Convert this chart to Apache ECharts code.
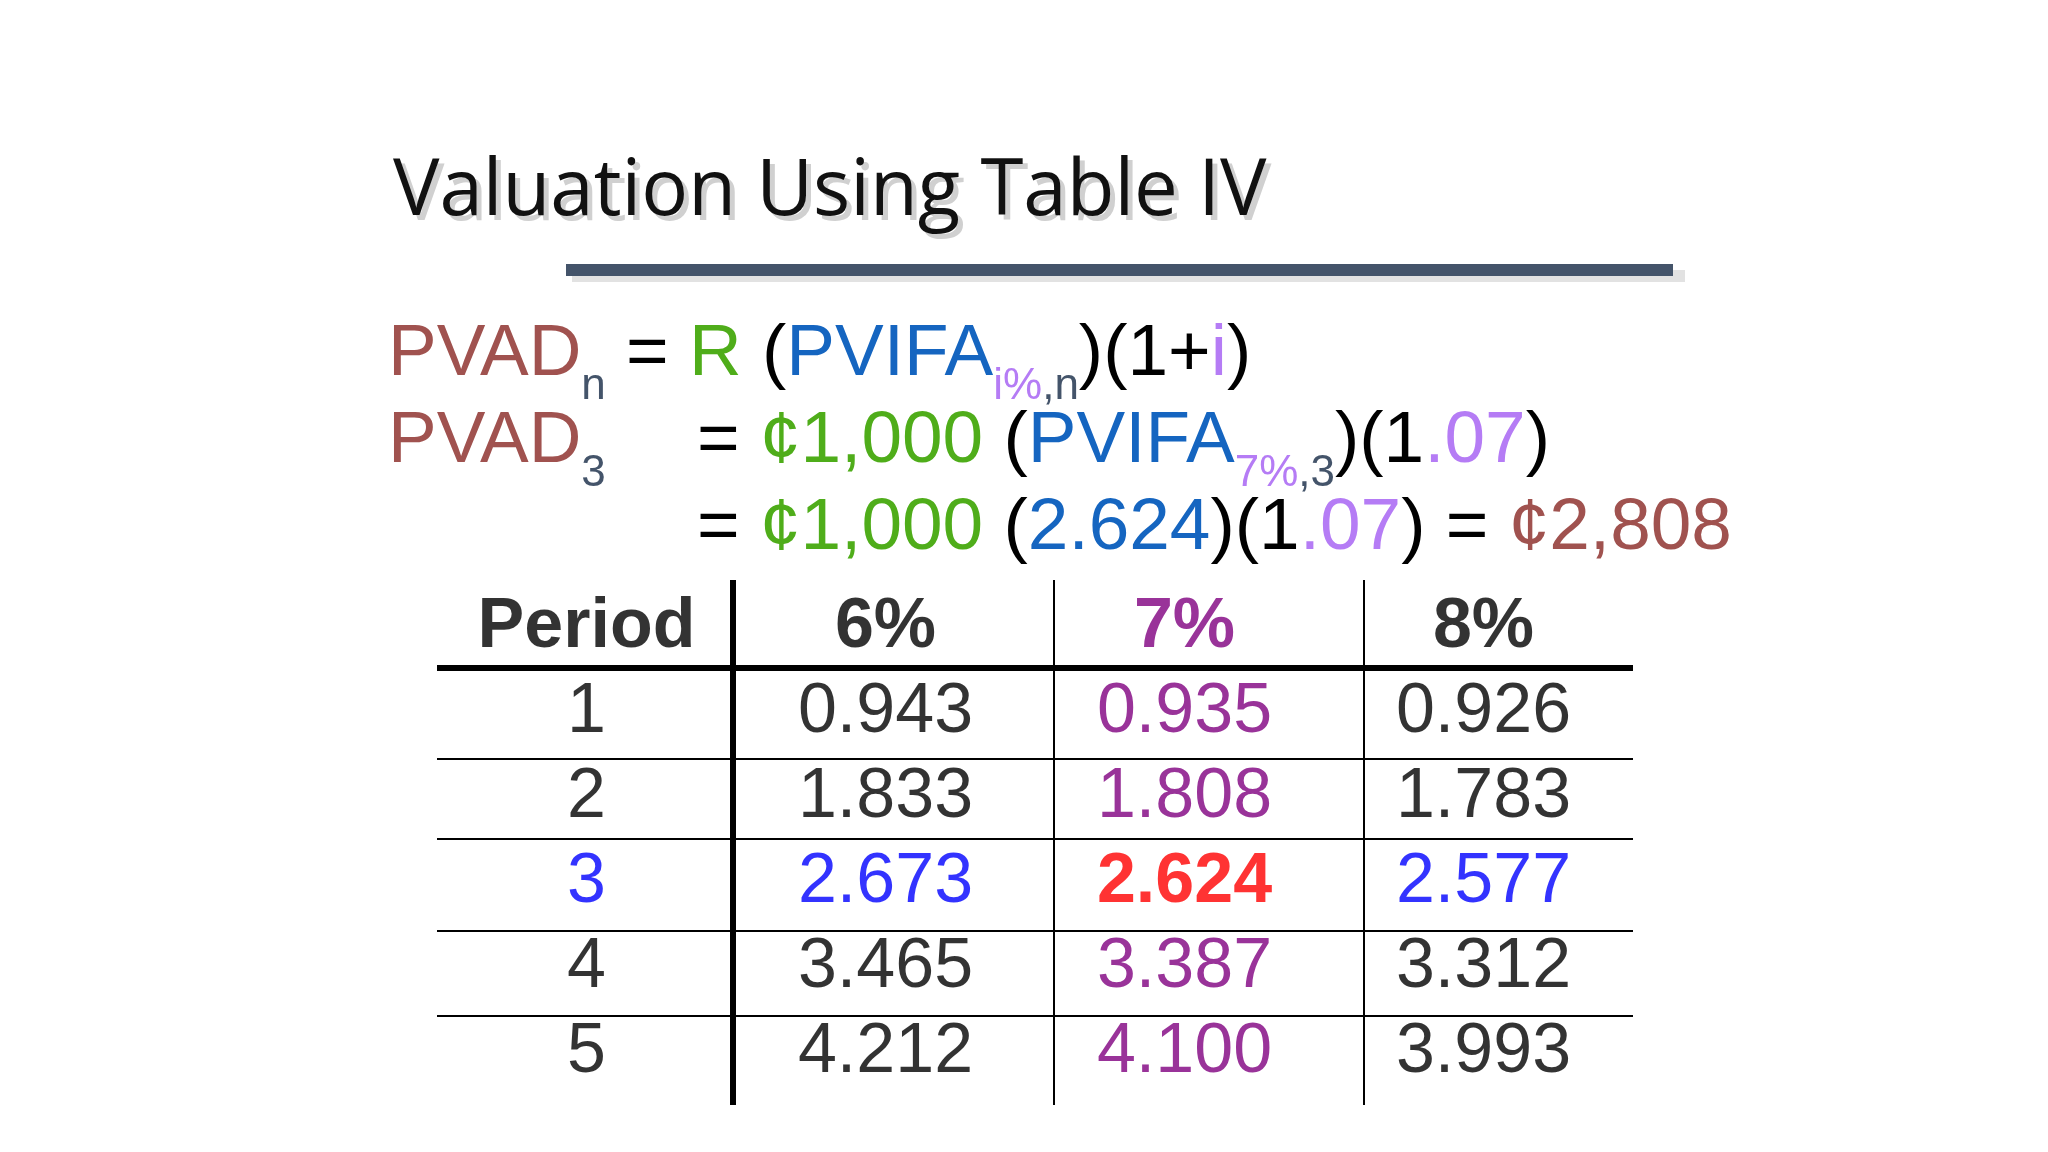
<!DOCTYPE html>
<html>
<head>
<meta charset="utf-8">
<script src="https://cdn.jsdelivr.net/npm/echarts@6/dist/echarts.min.js"></script>
<style>html,body{margin:0;padding:0;background:#fff}#c{width:2048px;height:1152px}</style>
</head>
<body>
<div id="c"></div>
<script>
// table data
const headers = ['Period', '6%', '7%', '8%']
const periods = ['1', '2', '3', '4', '5']
const pv6 = ['0.943', '1.833', '2.673', '3.465', '4.212']
const pv7 = ['0.935', '1.808', '2.624', '3.387', '4.100']
const pv8 = ['0.926', '1.783', '2.577', '3.312', '3.993']
const rowKeys = ['h'].concat(periods)

const cols = [periods, pv6, pv7, pv8]
const cells = []
headers.forEach((h, c) => {
  cells.push({ value: [c, 0], txt: h, st: c === 2 ? 'h7' : 'h' })
})
cols.forEach((arr, c) => {
  arr.forEach((v, r) => {
    let st = c === 2 ? 'p' : 'k'
    if (r === 2) st = c === 2 ? 'red' : 'b'
    cells.push({ value: [c, r + 1], txt: v, st: st })
  })
})

const F = 'Liberation Sans, Arial, sans-serif'
const BR = '#a0524f', GR = '#4fad1a', BL = '#1565c0', PU = '#b57cf5', GY = '#44546a'
const main = (c) => ({ fontSize: 73, fontFamily: F, fill: c, lineHeight: 100, verticalAlign: 'middle' })
const sub = (c) => ({ fontSize: 44, fontFamily: F, fill: c, lineHeight: 100, verticalAlign: 'bottom', padding: [0, 0, -4, 0] })
const rich = { br: main(BR), g: main(GR), bl: main(BL), p: main(PU), k: main('#000'),
  sp: sub(PU), sg: sub(GY) }

const chart = echarts.init(document.getElementById('c'))
chart.setOption({
  backgroundColor: '#fff',
  animation: false,
  grid: { left: 437, right: 415, top: 585, bottom: 57 },
  xAxis: { type: 'category', data: headers, show: false },
  yAxis: { type: 'category', data: rowKeys, inverse: true, show: false },
  series: [{
    type: 'scatter',
    symbolSize: 0,
    data: cells,
    label: {
      show: true,
      position: 'inside',
      color: '#000',
      textBorderWidth: 0,
      formatter: (p) => '{' + p.data.st + '|' + p.data.txt + '}',
      rich: {
        h: { fontSize: 70, fontWeight: 'bold', fontFamily: F, color: '#000' },
        h7: { fontSize: 70, fontWeight: 'bold', fontFamily: F, color: '#800080' },
        k: { fontSize: 70, fontFamily: F, color: '#000' },
        p: { fontSize: 70, fontFamily: F, color: '#800080' },
        b: { fontSize: 70, fontFamily: F, color: '#0000ff' },
        red: { fontSize: 70, fontWeight: 'bold', fontFamily: F, color: '#ff0000' }
      }
    }
  }],
  graphic: [
    // title with soft shadow
    { type: 'text', left: 398, top: 159, style: { text: 'Valuation Using Table IV', font: '78px "Open Sans", sans-serif', fill: '#d0d0d0' } },
    { type: 'text', left: 393, top: 154, style: { text: 'Valuation Using Table IV', font: '78px "Open Sans", sans-serif', fill: '#111' } },
    { type: 'rect', shape: { x: 572, y: 270, width: 1113, height: 12 }, style: { fill: '#e2e2e2' } },
    { type: 'rect', shape: { x: 566, y: 264, width: 1107, height: 12 }, style: { fill: '#44546a' } },
    // formula lines
    { type: 'text', left: 388, top: 318, style: { text: '{br|PVAD}{sg|n}{k| = }{g|R}{k| (}{bl|PVIFA}{sp|i%}{sg|,n}{k|)(1+}{p|i}{k|)}', rich: rich } },
    { type: 'text', left: 388, top: 405, style: { text: '{br|PVAD}{sg|3}', rich: rich } },
    { type: 'text', left: 697, top: 405, style: { text: '{k|= }{g|¢1,000}{k| (}{bl|PVIFA}{sp|7%}{sg|,3}{k|)(1}{p|.07}{k|)}', rich: rich } },
    { type: 'text', left: 697, top: 492, style: { text: '{k|= }{g|¢1,000}{k| (}{bl|2.624}{k|)(1}{p|.07}{k|) = }{br|¢2,808}', rich: rich } },
    // table rules
    { type: 'line', shape: { x1: 437, y1: 668, x2: 1633, y2: 668 }, style: { stroke: '#000', lineWidth: 6 } },
    { type: 'line', shape: { x1: 437, y1: 759, x2: 1633, y2: 759 }, style: { stroke: '#000', lineWidth: 2 } },
    { type: 'line', shape: { x1: 437, y1: 839, x2: 1633, y2: 839 }, style: { stroke: '#000', lineWidth: 2 } },
    { type: 'line', shape: { x1: 437, y1: 931, x2: 1633, y2: 931 }, style: { stroke: '#000', lineWidth: 2 } },
    { type: 'line', shape: { x1: 437, y1: 1016, x2: 1633, y2: 1016 }, style: { stroke: '#000', lineWidth: 2 } },
    { type: 'line', shape: { x1: 733, y1: 580, x2: 733, y2: 1105 }, style: { stroke: '#000', lineWidth: 6 } },
    { type: 'line', shape: { x1: 1054, y1: 580, x2: 1054, y2: 1105 }, style: { stroke: '#000', lineWidth: 2 } },
    { type: 'line', shape: { x1: 1364, y1: 580, x2: 1364, y2: 1105 }, style: { stroke: '#000', lineWidth: 2 } }
  ]
})
</script>
</body>
</html>
